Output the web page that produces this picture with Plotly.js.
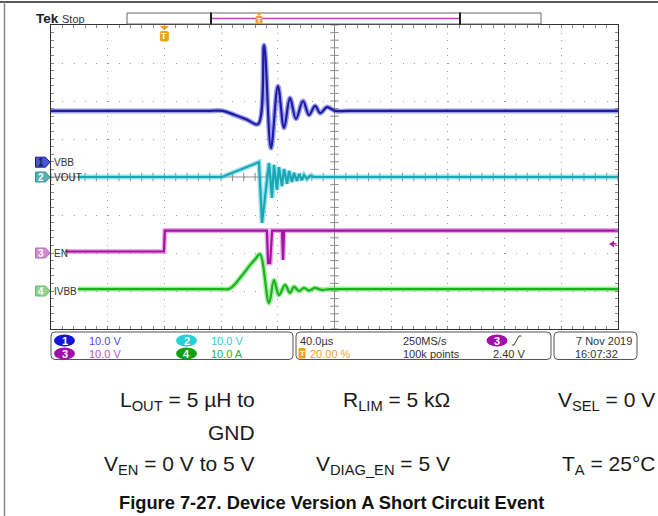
<!DOCTYPE html>
<html><head><meta charset="utf-8">
<script src="https://cdn.plot.ly/plotly-3.0.1.min.js"></script>
<style>html,body{margin:0;padding:0;background:#fff;}#chart{width:658px;height:516px;}</style>
</head><body><div id="chart"></div>
<script>
// ---------- DATA (time in µs, trigger at 0) ----------
const timeRange = [-80, 320];
const timePerDiv = 40;

const vbbTime  = [-80, 30, 41.3, 49.7, 58.2, 66, 70.3, 75.2, 80.1, 84.4, 88.6, 92.8, 97.8, 102, 106.3, 110, 114.7, 120.4, 130, 320];
const vbbVolts = [13.5, 13.5, 13.5, 12.4, 11.2, 10.0, 30.8, 3.7, 20.0, 9.0, 16.9, 11.4, 16.1, 12.4, 14.8, 12.9, 14.5, 13.5, 13.5, 13.5];

const voutTime  = [-61, 40.6, 66.7, 68.9, 73.8, 75.9, 77.3, 79.4, 80.8, 82.9, 84.4, 86.5, 87.9, 90, 91.4, 93.5, 95, 97, 98.5, 100.6, 102.7, 106, 320];
const voutVolts = [0, 0, 3.9, -12.1, 3.7, -5.5, 3.2, -3.4, 2.6, -2.4, 2.1, -1.8, 1.6, -1.3, 1.1, -1.0, 0.8, -0.8, 0.5, -0.5, 0.3, 0, 0];

const enTime  = [-70, -0.3, 0.3, 72.3, 73.2, 74.6, 76.0, 83.0, 83.7, 84.4, 320];
const enVolts = [0.4, 0.4, 5.9, 5.9, -2.6, -2.6, 5.9, 5.9, -1.8, 5.9, 5.9];

const ivbbTime = [-61, 40, 44.9, 47.7, 50.5, 53.3, 56.9, 60.4, 63.9, 67.4, 73.8, 77.3, 80.8, 85.1, 88.6, 91.4, 95, 98.5, 102, 106, 111, 116.7, 125, 320];
const ivbbAmps = [0.5, 0.5, 0.5, 1.05, 2.1, 3.4, 5.1, 6.8, 8.3, 9.7, -3.2, 2.9, -1.1, 1.6, -0.5, 1.1, 0, 0.8, 0.1, 0.8, 0.3, 0.5, 0.5, 0.5];

const channelNames  = ['VBB', 'VOUT', 'EN', 'IVBB'];
const channelScales = [10, 10, 10, 10];      // units per division
const channelUnits  = ['V', 'V', 'V', 'A'];
const triggerLevel  = 2.40;                   // V on channel 3
const triggerPercent = '20.00 %';
const sampleRate = '250MS/s';
const recordLength = '100k points';
const dateText = '7 Nov 2019';
const timeText = '16:07:32';

// ---------- STYLE / POSITION ----------
const channelOffsets = [0.39, 0, -2, -3];    // divisions from centre
const mainColors = ['#1b1ba6', '#1aa7b5', '#a412a4', '#1bb21b'];
const haloColors = ['rgba(80,80,210,0.55)', 'rgba(80,205,220,0.6)', 'rgba(215,95,215,0.55)', 'rgba(95,225,95,0.6)'];
const textColors = ['#4a4af0', '#3cc8d8', '#c050c0', '#2fae2f'];
const badgeColors = ['#1414dc', '#22d0d6', '#a010a8', '#14a014'];
const markerFill = ['#4757d2', '#58aeb6', '#d08cd0', '#8ed48e'];
const markerLine = ['#1b1b9a', '#3a8f98', '#b070b0', '#6cb86c'];
const shapesPerChan = ['spline', 'linear', 'linear', 'spline'];

const W = 658, H = 516, GL = 51, GR = 618, GT = 25, GB = 329;
const px = X => (X - GL) / (GR - GL);
const py = Y => (GB - Y) / (GB - GT);
const divPx = (GB - GT) / 8;
const fontScope = 'Liberation Sans, Arial, sans-serif';

const series = [[vbbTime, vbbVolts], [voutTime, voutVolts], [enTime, enVolts], [ivbbTime, ivbbAmps]];

const traces = [];
// centre graticule ticks
const cty = [], ctx = [];
for (let d = -4; d <= 4.0001; d += 0.2) cty.push(d);
for (let t = timeRange[0]; t <= timeRange[1] + 0.001; t += timePerDiv / 5) ctx.push(t);
traces.push({x: cty.map(() => 120), y: cty, mode: 'markers', xaxis: 'x', yaxis: 'y', hoverinfo: 'skip',
  marker: {symbol: 'line-ew', size: 6, line: {width: 1, color: '#8a8a8a'}}});
traces.push({x: ctx, y: ctx.map(() => 0), mode: 'markers', xaxis: 'x', yaxis: 'y', hoverinfo: 'skip',
  marker: {symbol: 'line-ns', size: 6, line: {width: 1, color: '#8a8a8a'}}});

series.forEach((s, i) => {
  const ya = 'y' + (i + 2);
  traces.push({x: s[0], y: s[1], mode: 'lines', xaxis: 'x', yaxis: ya, hoverinfo: 'skip',
    line: {color: haloColors[i], width: 5, shape: shapesPerChan[i]}});
  traces.push({x: s[0], y: s[1], mode: 'lines', xaxis: 'x', yaxis: ya, hoverinfo: 'skip',
    line: {color: mainColors[i], width: 2.2, shape: shapesPerChan[i]}});
});

const layout = {
  width: W, height: H, autosize: false,
  margin: {l: GL, r: W - GR, t: GT, b: H - GB, pad: 0},
  paper_bgcolor: '#fff', plot_bgcolor: '#fff', showlegend: false,
  xaxis: {range: timeRange, tickmode: 'linear', tick0: timeRange[0], dtick: timePerDiv,
    showgrid: true, gridcolor: '#9a9a9a', gridwidth: 1, griddash: '1px,6.6px',
    showline: true, linecolor: '#333', linewidth: 1, mirror: 'ticks',
    ticks: 'inside', ticklen: 3, tickcolor: '#888', showticklabels: false, zeroline: false, fixedrange: true,
    minor: {dtick: timePerDiv / 5, tick0: timeRange[0], ticks: 'inside', ticklen: 3, tickcolor: '#888', showgrid: false}},
  yaxis: {range: [-4, 4], tickmode: 'linear', tick0: -4, dtick: 1,
    showgrid: true, gridcolor: '#9a9a9a', gridwidth: 1, griddash: '1px,10.34px',
    showline: true, linecolor: '#333', linewidth: 1, mirror: 'ticks',
    ticks: 'inside', ticklen: 3, tickcolor: '#888', showticklabels: false, zeroline: false, fixedrange: true,
    minor: {dtick: 0.2, tick0: -4, ticks: 'inside', ticklen: 3, tickcolor: '#888', showgrid: false}},
  shapes: [], annotations: []
};
channelScales.forEach((sc, i) => {
  layout['yaxis' + (i + 2)] = {overlaying: 'y', visible: false, fixedrange: true,
    range: [(-4 - channelOffsets[i]) * sc, (4 - channelOffsets[i]) * sc]};
});

const S = layout.shapes, A = layout.annotations;
const P = pts => 'M' + pts.map(p => px(p[0]) + ',' + py(p[1])).join(' L') + ' Z';
const rrect = (x0, y0, x1, y1, r) =>
  `M${px(x0 + r)},${py(y0)} L${px(x1 - r)},${py(y0)} Q${px(x1)},${py(y0)} ${px(x1)},${py(y0 + r)} L${px(x1)},${py(y1 - r)} Q${px(x1)},${py(y1)} ${px(x1 - r)},${py(y1)} L${px(x0 + r)},${py(y1)} Q${px(x0)},${py(y1)} ${px(x0)},${py(y1 - r)} L${px(x0)},${py(y0 + r)} Q${px(x0)},${py(y0)} ${px(x0 + r)},${py(y0)} Z`;
const pl = (x0, y0, x1, y1, color, width) => S.push({type: 'line', xref: 'paper', yref: 'paper',
  x0: px(x0), y0: py(y0), x1: px(x1), y1: py(y1), line: {color: color, width: width}});
const txt = (X, Y, text, size, color, anchor) => A.push({xref: 'paper', yref: 'paper',
  x: px(X), y: py(Y), text: text, showarrow: false, xanchor: anchor || 'left', yanchor: 'middle',
  font: {family: fontScope, size: size, color: color}});

// centre lines of graticule
S.push({type: 'line', xref: 'x', yref: 'paper', x0: 120, x1: 120, y0: 0, y1: 1, layer: 'below', line: {color: '#8a8a8a', width: 1}});
S.push({type: 'line', xref: 'paper', yref: 'y', x0: 0, x1: 1, y0: 0, y1: 0, layer: 'below', line: {color: '#8a8a8a', width: 1}});

// outer frame
pl(0, 2, 658, 2, '#222', 1.5);
pl(4.5, 2, 4.5, 516, '#8a8a8a', 1.5);

// record bar
S.push({type: 'rect', xref: 'paper', yref: 'paper', x0: px(127), x1: px(541), y0: py(24), y1: py(13), line: {color: '#666', width: 1}, fillcolor: '#fff'});
pl(211, 18.5, 460, 18.5, '#c040c0', 1.5);
pl(211, 12.5, 211, 24.5, '#222', 2);
pl(460, 12.5, 460, 24.5, '#222', 2);
S.push({type: 'path', xref: 'paper', yref: 'paper', path: P([[256, 13], [262, 13], [259, 16]]), fillcolor: '#f0a020', line: {width: 0}});
S.push({type: 'path', xref: 'paper', yref: 'paper', path: rrect(255.5, 16, 262.5, 24, 1.5), fillcolor: '#f0a020', line: {width: 0}});
txt(259, 20.3, '<b>T</b>', 7, '#fff', 'center');

// trigger position marker
const trigX = GL + (0 - timeRange[0]) / (timeRange[1] - timeRange[0]) * (GR - GL);
S.push({type: 'path', xref: 'paper', yref: 'paper', path: P([[trigX - 4.5, 26], [trigX + 4.5, 26], [trigX, 30.5]]), fillcolor: '#f0a020', line: {width: 0}});
S.push({type: 'path', xref: 'paper', yref: 'paper', path: rrect(trigX - 4.5, 31, trigX + 4.5, 41.5, 2), fillcolor: '#f0a020', line: {width: 0}});
txt(trigX, 36.5, '<b>T</b>', 9, '#fff', 'center');

// channel markers + labels
channelNames.forEach((n, i) => {
  const yc = (GT + GB) / 2 - channelOffsets[i] * divPx;
  S.push({type: 'path', xref: 'paper', yref: 'paper', path: P([[35.5, yc - 5], [45.5, yc - 5], [50, yc], [45.5, yc + 5], [35.5, yc + 5]]),
    fillcolor: markerFill[i], line: {color: markerLine[i], width: 1}});
  txt(41, yc + 0.5, '<b>' + (i + 1) + '</b>', 10, i === 0 ? '#1a1a60' : '#fff', 'center');
  txt(52, yc, n, 10, '#333', 'left');
});

// trigger level arrow (ch3)
const tlY = (GT + GB) / 2 - (channelOffsets[2] + triggerLevel / channelScales[2]) * divPx;
S.push({type: 'path', xref: 'paper', yref: 'paper', path: P([[609, tlY], [614, tlY - 3.5], [614, tlY + 3.5]]), fillcolor: '#b020b0', line: {width: 0}});
pl(613, tlY, 616.5, tlY, '#b020b0', 1.5);

// info boxes
[[51, 293], [296, 551], [554, 637]].forEach(b => {
  S.push({type: 'path', xref: 'paper', yref: 'paper', path: rrect(b[0], 332, b[1], 359.5, 4), line: {color: '#555', width: 1}, fillcolor: 'rgba(0,0,0,0)'});
});
const row1 = 340.5, row2 = 353.5;
const badge = (cx, cy, color, label) => {
  S.push({type: 'circle', xref: 'paper', yref: 'paper', x0: px(cx - 10.5), x1: px(cx + 10.5), y0: py(cy + 6), y1: py(cy - 6), fillcolor: color, line: {width: 0}});
  txt(cx, cy + 0.5, '<b>' + label + '</b>', 11, '#fff', 'center');
};
const badgePos = [[64.5, row1], [186.5, row1], [64.5, row2], [186.5, row2]];
badgePos.forEach((p, i) => {
  badge(p[0], p[1], badgeColors[i], String(i + 1));
  txt(p[0] + 22.5, p[1], channelScales[i].toFixed(1) + ' ' + channelUnits[i], 11, textColors[i], 'left');
});
txt(298, row1, timePerDiv.toFixed(1) + 'µs', 11, '#333', 'left');
S.push({type: 'path', xref: 'paper', yref: 'paper', path: rrect(298.5, 348, 305.5, 358.5, 1), fillcolor: '#f0a020', line: {width: 0}});
txt(302, row2 + 0.3, '<b>T</b>', 8, '#fff', 'center');
txt(308, row2, triggerPercent, 11, '#f0a030', 'left');
txt(401, row1, sampleRate, 11, '#333', 'left');
txt(401, row2, recordLength, 11, '#333', 'left');
badge(497, row1, badgeColors[2], '3');
S.push({type: 'path', xref: 'paper', yref: 'paper', path: `M${px(512)},${py(345)} L${px(514)},${py(345)} L${px(519)},${py(336)} L${px(521.5)},${py(336)}`, line: {color: '#444', width: 1}});
txt(491, row2, triggerLevel.toFixed(2) + ' V', 11, '#333', 'left');
txt(634, row1, dateText, 11, '#333', 'right');
txt(573, row2, timeText, 11, '#333', 'left');

// Tek Stop
txt(34, 18.5, '<b>Tek</b>', 13.5, '#222', 'left');
txt(60, 18.5, 'Stop', 11, '#333', 'left');

// conditions below
const cf = {family: 'Liberation Sans, Arial, sans-serif', size: 21, color: '#1a1a1a'};
const cond = (X, Y, text) => A.push({xref: 'paper', yref: 'paper', x: px(X), y: py(Y), text: text, showarrow: false, xanchor: 'right', yanchor: 'middle', font: cf});
cond(257, 401, 'L<sub>OUT</sub> = 5 µH to');
cond(452, 401, 'R<sub>LIM</sub> = 5 kΩ');
cond(657, 401, 'V<sub>SEL</sub> = 0 V');
cond(257, 432, 'GND');
cond(257, 465, 'V<sub>EN</sub> = 0 V to 5 V');
cond(452, 465, 'V<sub>DIAG_EN</sub> = 5 V');
cond(657, 465, 'T<sub>A</sub> = 25°C');
A.push({xref: 'paper', yref: 'paper', x: px(331), y: py(502), text: '<b>Figure 7-27. Device Version A Short Circuit Event</b>',
  showarrow: false, xanchor: 'center', yanchor: 'middle', font: {family: 'Liberation Sans, Arial, sans-serif', size: 18.3, color: '#111'}});

Plotly.newPlot('chart', traces, layout, {staticPlot: true, displayModeBar: false});
</script></body></html>
